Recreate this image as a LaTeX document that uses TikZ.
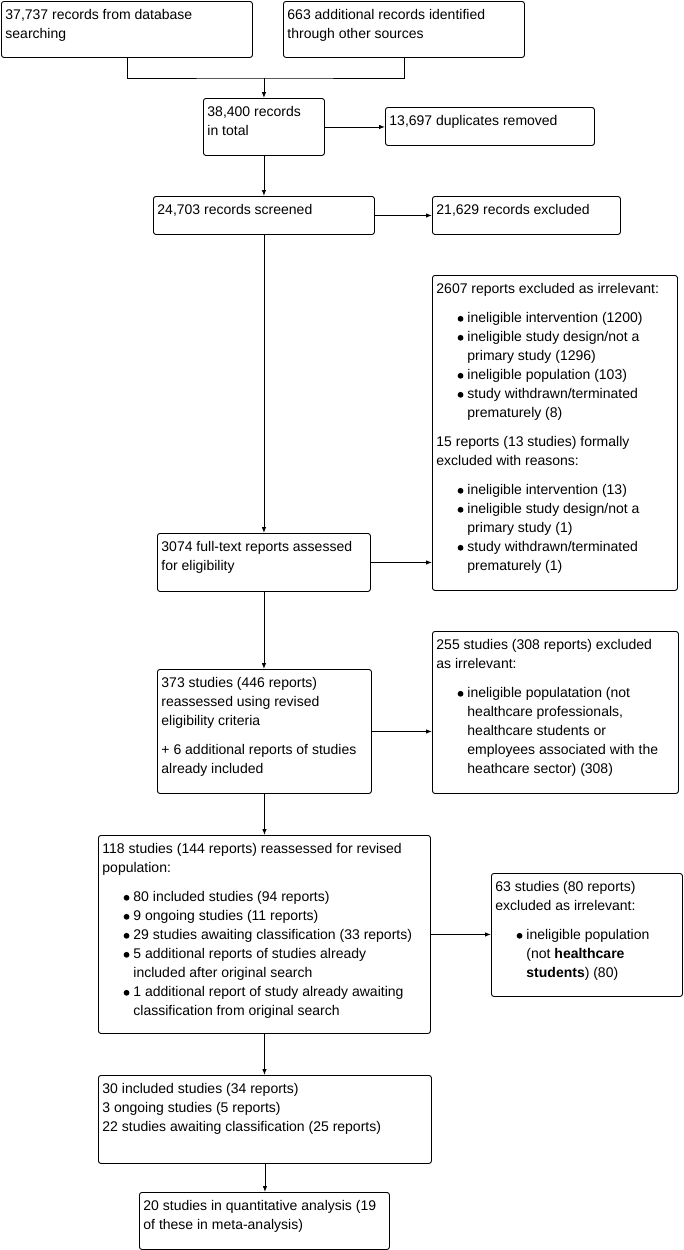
\documentclass[tikz,border=0pt]{standalone}
\usepackage{fontspec}
\setmainfont{Liberation Sans}
\usetikzlibrary{arrows.meta}
\newcommand{\fs}{\fontsize{14}{19}\selectfont}
\newcommand{\bdot}{\tikz[baseline=-3.8pt]\fill (0,0) circle[radius=2.9pt];}
\newcommand{\bitem}[1]{\par{\leftskip=31pt\leavevmode\llap{\bdot\hspace{4pt}}#1\par}}
\newcommand{\gap}{\par\vspace{10pt}}
\tikzset{
  ar/.style={-{Latex[length=6pt,width=4.5pt]},line width=0.9pt},
  ln/.style={line width=0.9pt},
  box/.style 2 args={draw,line width=0.9pt,rounded corners=2.5pt,anchor=north west,
    inner xsep=4pt,inner ysep=8pt,
    execute at begin node={\begin{minipage}[t][\dimexpr#2pt-16pt\relax][t]{\dimexpr#1pt-8pt\relax}\fs\raggedright},
    execute at end node={\end{minipage}}}
}
\begin{document}
\begin{tikzpicture}[x=1pt,y=-1pt]
\useasboundingbox (0,0) rectangle (683,1250);
\node[box={251}{56}] (db) at (1,1) {37,737 records from database\\searching};
\node[box={241}{56}] (oth) at (283,1) {663 additional records identified\\through other sources};
\node[box={121}{57}] (tot) at (203,98) {38,400 records\\in total};
\node[box={209}{38}] (dup) at (385,107) {13,697 duplicates removed};
\node[box={221}{38}] (scr) at (153,196) {24,703 records screened};
\node[box={188}{38}] (exc) at (432,196) {21,629 records excluded};
\node[box={245}{315}] (ir1) at (432,275) {2607 reports excluded as irrelevant:\gap
  \bitem{ineligible intervention (1200)}
  \bitem{ineligible study design/not a\\primary study (1296)}
  \bitem{ineligible population (103)}
  \bitem{study withdrawn/terminated\\prematurely (8)}\gap
  15 reports (13 studies) formally\\excluded with reasons:\gap
  \bitem{ineligible intervention (13)}
  \bitem{ineligible study design/not a\\primary study (1)}
  \bitem{study withdrawn/terminated\\prematurely (1)}};
\node[box={213}{58}] (ft) at (157,533) {3074 full-text reports assessed\\for eligibility};
\node[box={246}{162}] (ir2) at (432,631) {255 studies (308 reports) excluded\\as irrelevant:\gap
  \bitem{ineligible populatation (not\\healthcare professionals,\\healthcare students or\\employees associated with the\\heathcare sector) (308)}};
\node[box={214}{124}] (rev) at (157,669) {373 studies (446 reports)\\reassessed using revised\\eligibility criteria\gap
  + 6 additional reports of studies\\already included};
\node[box={332}{198}] (pop) at (98,835) {118 studies (144 reports) reassessed for revised\\population:\gap
  \bitem{80 included studies (94 reports)}
  \bitem{9 ongoing studies (11 reports)}
  \bitem{29 studies awaiting classification (33 reports)}
  \bitem{5 additional reports of studies already\\included after original search}
  \bitem{1 additional report of study already awaiting\\classification from original search}};
\node[box={191}{123}] (ir3) at (491,873) {63 studies (80 reports)\\excluded as irrelevant:\gap
  \bitem{ineligible population\\(not \textbf{healthcare}\\\textbf{students}) (80)}};
\node[box={333}{88}] (inc) at (98,1075) {30 included studies (34 reports)\\3 ongoing studies (5 reports)\\22 studies awaiting classification (25 reports)};
\node[box={250}{57}] (qa) at (139,1192) {20 studies in quantitative analysis (19\\of these in meta-analysis)};
\coordinate (join) at (tot.north |- 0,78);
\draw[ln] (db.south) |- (join) -| (oth.south);
\draw[ar] (join) -- (tot.north);
\draw[ar] (tot.east) -- (tot.east -| dup.west);
\draw[ar] (tot.south) -- (tot.south |- scr.north);
\draw[ar] (scr.east) -- (scr.east -| exc.west);
\draw[ar] (scr.south) -- (scr.south |- ft.north);
\draw[ar] (ft.east) -- (ft.east -| ir1.west);
\draw[ar] (ft.south) -- (ft.south |- rev.north);
\draw[ar] (rev.east) -- (rev.east -| ir2.west);
\draw[ar] (rev.south) -- (rev.south |- pop.north);
\draw[ar] (pop.east) -- (pop.east -| ir3.west);
\draw[ar] (pop.south) -- (pop.south |- inc.north);
\draw[ar] (inc.south) -- (inc.south |- qa.north);
\end{tikzpicture}
\end{document}
